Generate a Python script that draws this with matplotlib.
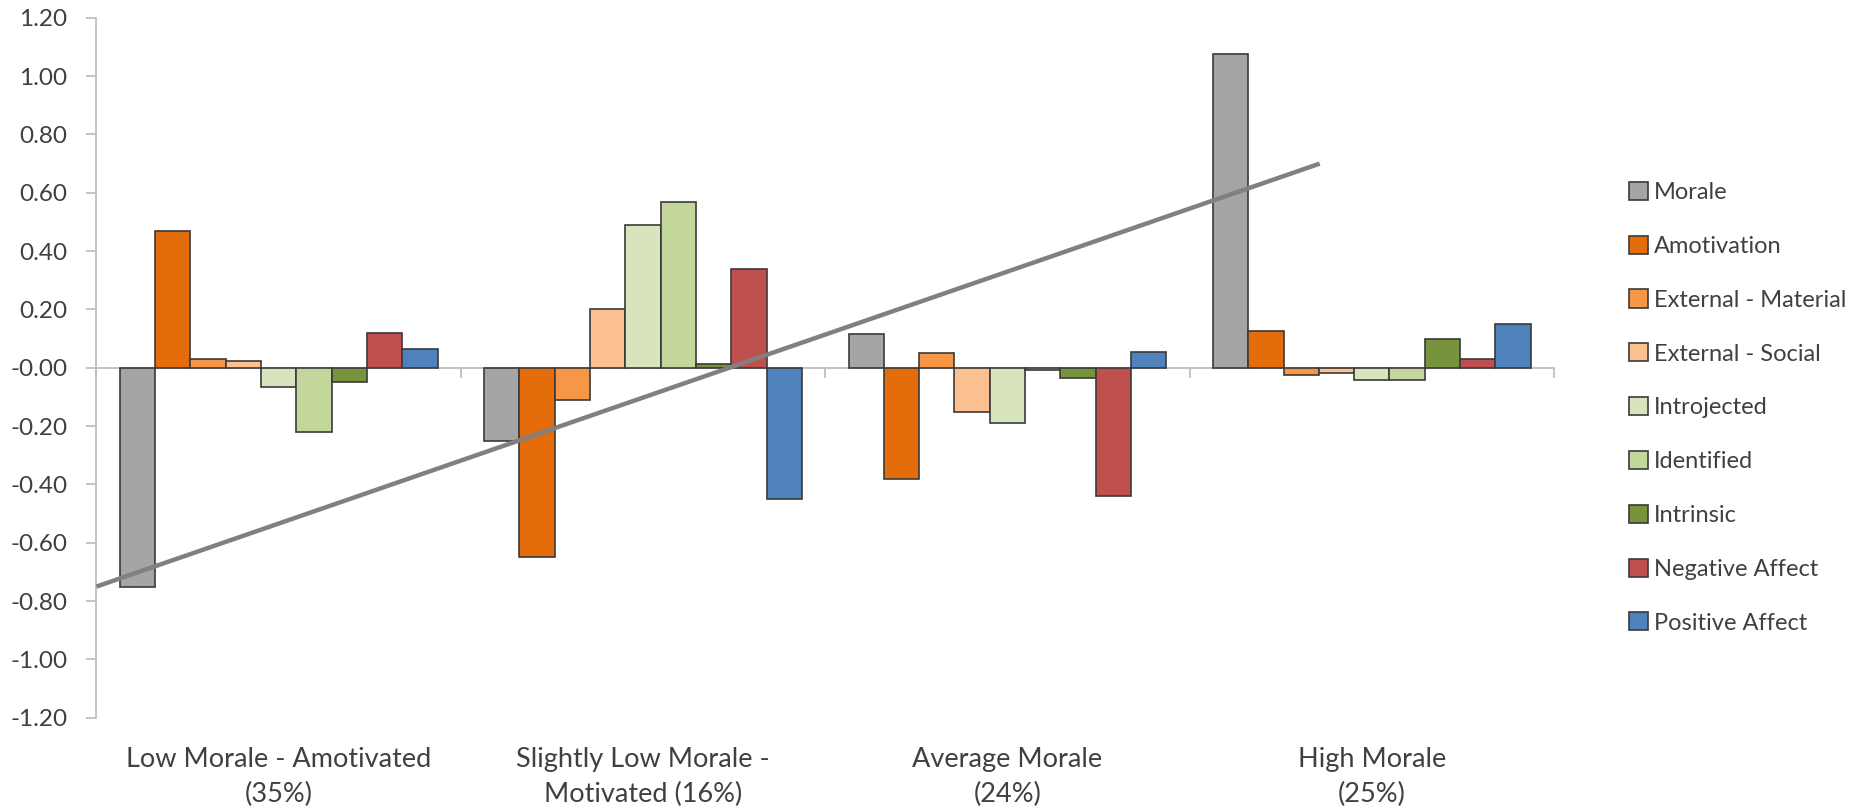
import numpy as np
import matplotlib.pyplot as plt

plt.rcParams['font.family'] = ['Lato', 'DejaVu Sans']

categories = ['Low Morale - Amotivated\n(35%)', 'Slightly Low Morale -\nMotivated (16%)',
              'Average Morale\n(24%)', 'High Morale\n(25%)']
series = ['Morale', 'Amotivation', 'External - Material', 'External - Social',
          'Introjected', 'Identified', 'Intrinsic', 'Negative Affect', 'Positive Affect']
colors = ['#A5A5A5', '#E46C0A', '#F79646', '#FAC090', '#D7E4BD',
          '#C3D69B', '#77933C', '#C0504D', '#4F81BD']

# one row per series, one value per category
values = [
    [-0.75, -0.25, 0.115, 1.075],    # Morale
    [0.47, -0.65, -0.38, 0.125],     # Amotivation
    [0.03, -0.11, 0.05, -0.025],     # External - Material
    [0.025, 0.20, -0.15, -0.018],    # External - Social
    [-0.065, 0.49, -0.19, -0.043],   # Introjected
    [-0.22, 0.57, -0.008, -0.043],   # Identified
    [-0.05, 0.012, -0.035, 0.10],    # Intrinsic
    [0.12, 0.34, -0.44, 0.03],       # Negative Affect
    [0.065, -0.45, 0.055, 0.15],     # Positive Affect
]

# straight grey trend line, ends (category units)
trend_x = [-0.5, 2.857]
trend_y = [-0.75, 0.70]

fig = plt.figure(figsize=(18.62, 8.08), dpi=100)
ax = fig.add_axes([0.0518, 0.1116, 0.7828, 0.8664])

x = np.arange(len(categories))
n = len(series)
w = 0.872 / n
for i, (name, vals) in enumerate(zip(series, values)):
    ax.bar(x - 0.436 + w * (i + 0.5), vals, w, color=colors[i], label=name,
           edgecolor='#3a3a3a', linewidth=1.2, zorder=2)

ax.plot(trend_x, trend_y, color='#808080', linewidth=3.2, zorder=3,
        solid_capstyle='butt')

ax.set_xlim(-0.5, 3.5)
ax.set_ylim(-1.2, 1.2)
ax.set_yticks(np.arange(-1.2, 1.21, 0.2))
ax.set_yticklabels(['%.2f' % v for v in np.arange(-1.2, 1.21, 0.2)])

grey = '#BFBFBF'
for s in ['top', 'right']:
    ax.spines[s].set_visible(False)
ax.spines['left'].set_color(grey)
ax.spines['left'].set_linewidth(1.3)
ax.spines['bottom'].set_position(('data', 0))
ax.spines['bottom'].set_color(grey)
ax.spines['bottom'].set_linewidth(1.3)
ax.spines['bottom'].set_zorder(1)

ax.set_xticks(np.arange(-0.5, 3.6, 1.0))
ax.set_xticklabels([])
ax.tick_params(axis='x', direction='out', length=7, width=1.3, color=grey)
ax.tick_params(axis='y', direction='out', length=7, width=1.3, color=grey,
               labelsize=17.5, labelcolor='#404040', pad=14)

sec = ax.secondary_xaxis('bottom')
sec.set_xticks(x)
sec.set_xticklabels(categories, fontsize=19.5, color='#404040', linespacing=1.5)
sec.tick_params(length=0, pad=21)
sec.spines['bottom'].set_visible(False)

leg = ax.legend(loc='center left', bbox_to_anchor=(1.045, 0.443), frameon=False,
                fontsize=17, handlelength=0.8, handleheight=0.8,
                handletextpad=0.25, labelspacing=1.38, borderaxespad=0)
for t in leg.get_texts():
    t.set_color('#404040')

fig.savefig('out.png', dpi=100)
